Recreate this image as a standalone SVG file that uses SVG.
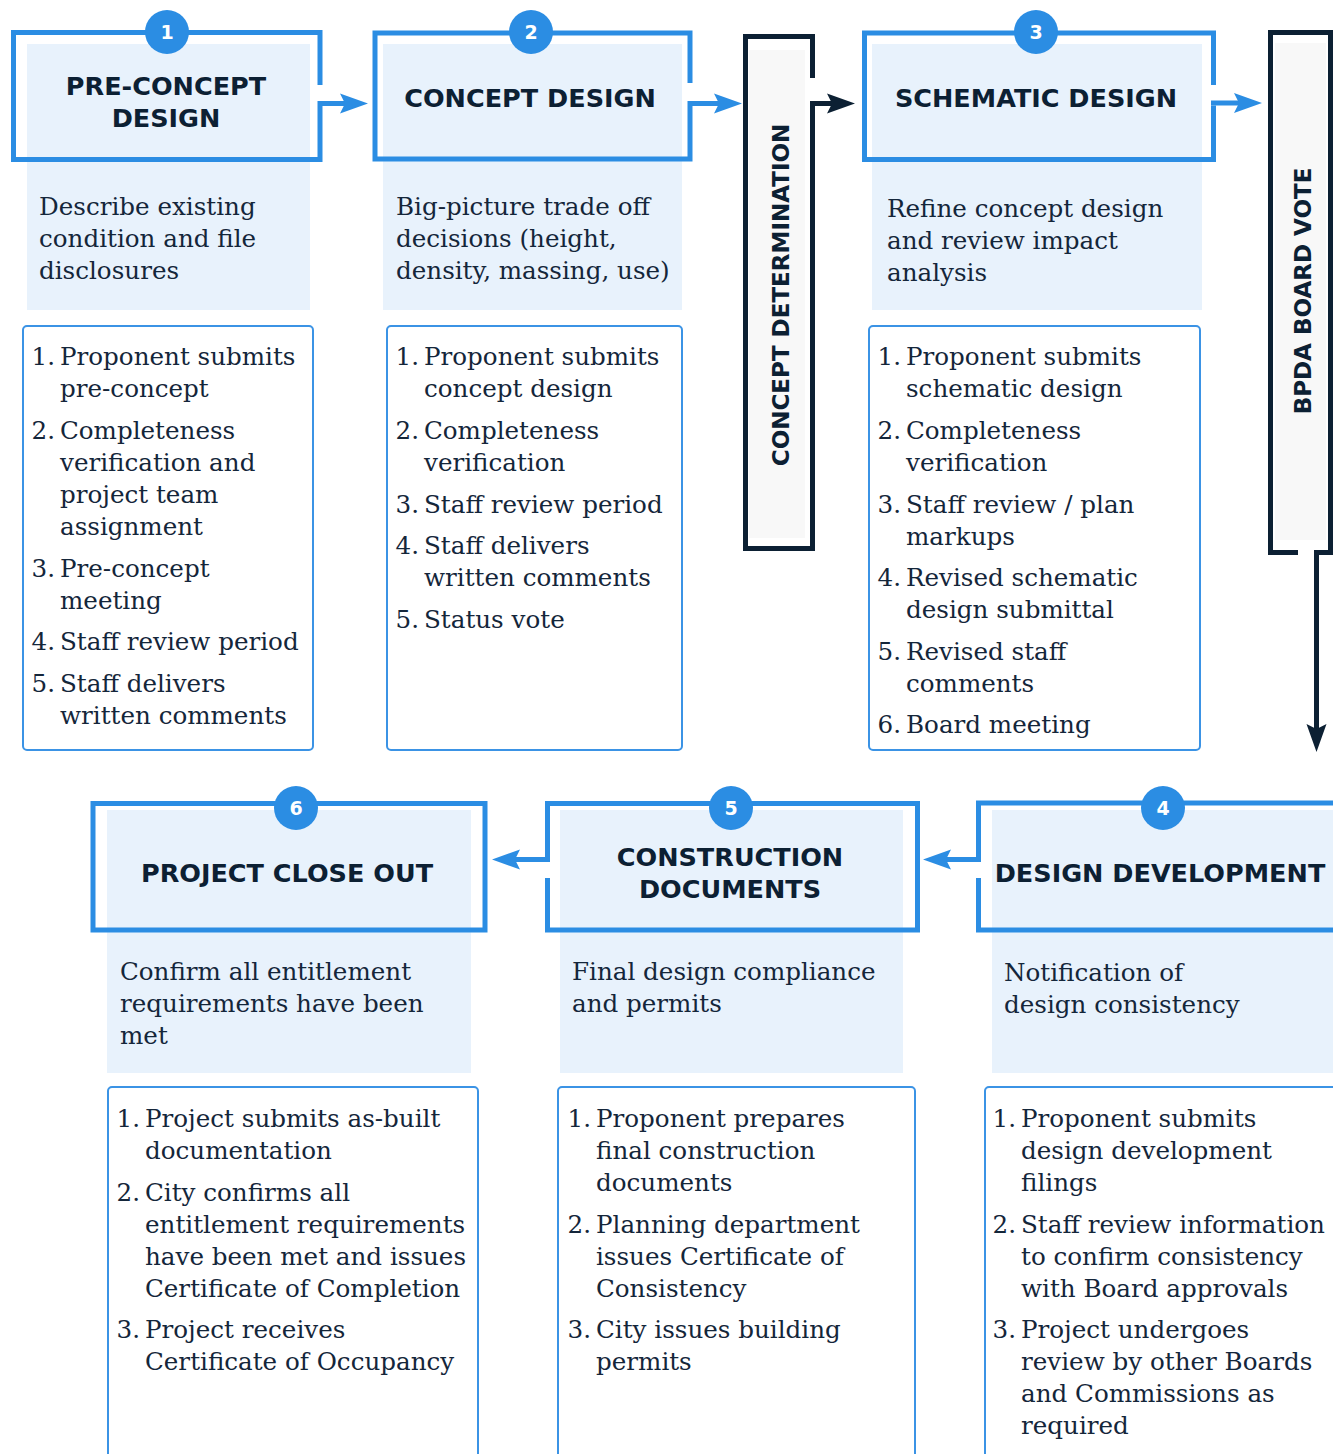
<svg xmlns="http://www.w3.org/2000/svg" width="1333" height="1454" viewBox="0 0 1333 1454">
  <defs>
    <style>
      .frame { fill: none; stroke: #2B8DE3; stroke-width: 5; stroke-linejoin: miter; }
      .bar { fill: none; stroke: #0C2033; stroke-width: 5; stroke-linejoin: miter; }
      .panel { fill: #E8F2FC; }
      .barfill { fill: #F8F8F8; }
      .list { fill: #FFFFFF; stroke: #3B93E5; stroke-width: 2; }
      .badge { fill: #2B8DE3; }
      .num { font-family: "DejaVu Sans", "Liberation Sans", sans-serif; font-weight: bold; font-size: 19px; fill: #FFFFFF; text-anchor: middle; }
      .title { font-family: "DejaVu Sans", "Liberation Sans", sans-serif; font-weight: bold; font-size: 25.5px; fill: #0C2033; text-anchor: middle; }
      .vtitle { font-family: "DejaVu Sans", "Liberation Sans", sans-serif; font-weight: bold; font-size: 23px; fill: #0C2033; text-anchor: middle; }
      .body { font-family: "DejaVu Serif", "Liberation Serif", serif; font-size: 24.6px; fill: #14263A; }
      .idx { text-anchor: end; }
      .conn { fill: none; stroke-width: 5; }
      .blue { stroke: #2B8DE3; }
      .dark { stroke: #0C2033; }
    </style>
    <marker id="headBlue" markerUnits="userSpaceOnUse" viewBox="-17 -11 30 22" markerWidth="30" markerHeight="22" refX="0" refY="0" orient="auto">
      <path d="M12,0 L-16,-10 L-11,0 L-16,10 Z" fill="#2B8DE3"/>
    </marker>
    <marker id="headDark" markerUnits="userSpaceOnUse" viewBox="-17 -11 30 22" markerWidth="30" markerHeight="22" refX="0" refY="0" orient="auto">
      <path d="M12,0 L-16,-10 L-11,0 L-16,10 Z" fill="#0C2033"/>
    </marker>
  </defs>

  <rect width="1333" height="1454" fill="#FFFFFF"/>

  <!-- Step 1: pre-concept design -->
  <g id="step1">
    <rect class="panel" x="27" y="44" width="283" height="266"/>
    <path class="frame" d="M320,85 V32.5 H13.5 V159.5 H320 V106"/>
    <text class="title" x="166" y="95">PRE-CONCEPT</text>
    <text class="title" x="166" y="127">DESIGN</text>
    <text class="body"><tspan x="39" y="215">Describe existing</tspan><tspan x="39" y="247">condition and file</tspan><tspan x="39" y="279">disclosures</tspan></text>
    <rect class="list" x="23" y="326" width="290" height="424" rx="4"/>
    <text class="body idx"><tspan x="55" y="365">1.</tspan><tspan x="55" y="439">2.</tspan><tspan x="55" y="577">3.</tspan><tspan x="55" y="650">4.</tspan><tspan x="55" y="692">5.</tspan></text>
    <text class="body">
      <tspan x="60" y="365">Proponent submits</tspan><tspan x="60" y="397">pre-concept</tspan>
      <tspan x="60" y="439">Completeness</tspan><tspan x="60" y="471">verification and</tspan><tspan x="60" y="503">project team</tspan><tspan x="60" y="535">assignment</tspan>
      <tspan x="60" y="577">Pre-concept</tspan><tspan x="60" y="609">meeting</tspan>
      <tspan x="60" y="650">Staff review period</tspan>
      <tspan x="60" y="692">Staff delivers</tspan><tspan x="60" y="724">written comments</tspan>
    </text>
    <circle class="badge" cx="167" cy="32" r="22"/>
    <text class="num" x="167" y="39">1</text>
  </g>

  <!-- Step 2: concept design -->
  <g id="step2">
    <rect class="panel" x="383" y="44" width="299" height="266"/>
    <path class="frame" d="M690,83 V33 H375 V159 H690 V106"/>
    <text class="title" x="530" y="107">CONCEPT DESIGN</text>
    <text class="body"><tspan x="396" y="215">Big-picture trade off</tspan><tspan x="396" y="247">decisions (height,</tspan><tspan x="396" y="279">density, massing, use)</tspan></text>
    <rect class="list" x="387" y="326" width="295" height="424" rx="4"/>
    <text class="body idx"><tspan x="419" y="365">1.</tspan><tspan x="419" y="439">2.</tspan><tspan x="419" y="513">3.</tspan><tspan x="419" y="554">4.</tspan><tspan x="419" y="628">5.</tspan></text>
    <text class="body">
      <tspan x="424" y="365">Proponent submits</tspan><tspan x="424" y="397">concept design</tspan>
      <tspan x="424" y="439">Completeness</tspan><tspan x="424" y="471">verification</tspan>
      <tspan x="424" y="513">Staff review period</tspan>
      <tspan x="424" y="554">Staff delivers</tspan><tspan x="424" y="586">written comments</tspan>
      <tspan x="424" y="628">Status vote</tspan>
    </text>
    <circle class="badge" cx="531" cy="32" r="22"/>
    <text class="num" x="531" y="39">2</text>
  </g>

  <!-- Gate: concept determination -->
  <g id="concept-determination">
    <rect class="barfill" x="749" y="50" width="56" height="488"/>
    <path class="bar" d="M812.5,78 V36.5 H745.5 V548.5 H812.5 V106"/>
    <text class="vtitle" transform="translate(789,295) rotate(-90)">CONCEPT DETERMINATION</text>
  </g>

  <!-- Step 3: schematic design -->
  <g id="step3">
    <rect class="panel" x="872" y="44" width="330" height="266"/>
    <path class="frame" d="M1213.5,85 V33 H864.5 V159.5 H1213.5 V105.5"/>
    <text class="title" x="1036" y="107">SCHEMATIC DESIGN</text>
    <text class="body"><tspan x="887" y="217">Refine concept design</tspan><tspan x="887" y="249">and review impact</tspan><tspan x="887" y="281">analysis</tspan></text>
    <rect class="list" x="869" y="326" width="331" height="424" rx="4"/>
    <text class="body idx"><tspan x="901" y="365">1.</tspan><tspan x="901" y="439">2.</tspan><tspan x="901" y="513">3.</tspan><tspan x="901" y="586">4.</tspan><tspan x="901" y="660">5.</tspan><tspan x="901" y="733">6.</tspan></text>
    <text class="body">
      <tspan x="906" y="365">Proponent submits</tspan><tspan x="906" y="397">schematic design</tspan>
      <tspan x="906" y="439">Completeness</tspan><tspan x="906" y="471">verification</tspan>
      <tspan x="906" y="513">Staff review / plan</tspan><tspan x="906" y="545">markups</tspan>
      <tspan x="906" y="586">Revised schematic</tspan><tspan x="906" y="618">design submittal</tspan>
      <tspan x="906" y="660">Revised staff</tspan><tspan x="906" y="692">comments</tspan>
      <tspan x="906" y="733">Board meeting</tspan>
    </text>
    <circle class="badge" cx="1036" cy="32" r="22"/>
    <text class="num" x="1036" y="39">3</text>
  </g>

  <!-- Gate: BPDA board vote -->
  <g id="bpda-board-vote">
    <rect class="barfill" x="1275" y="43" width="51" height="497"/>
    <path class="bar" d="M1298,552.5 H1270.5 V32.5 H1330.5 V552.5 H1314"/>
    <text class="vtitle" transform="translate(1311,291) rotate(-90)">BPDA BOARD VOTE</text>
  </g>

  <!-- Step 4: design development -->
  <g id="step4">
    <rect class="panel" x="992" y="810" width="341" height="263"/>
    <path class="frame" d="M1340,803 H978.5 V857"/>
    <path class="frame" d="M978.5,878 V930 H1340"/>
    <text class="title" x="1160" y="882">DESIGN DEVELOPMENT</text>
    <text class="body"><tspan x="1004" y="981">Notification of</tspan><tspan x="1004" y="1013">design consistency</tspan></text>
    <rect class="list" x="985" y="1087" width="360" height="380" rx="4"/>
    <text class="body idx"><tspan x="1016" y="1127">1.</tspan><tspan x="1016" y="1233">2.</tspan><tspan x="1016" y="1338">3.</tspan></text>
    <text class="body">
      <tspan x="1021" y="1127">Proponent submits</tspan><tspan x="1021" y="1159">design development</tspan><tspan x="1021" y="1191">filings</tspan>
      <tspan x="1021" y="1233">Staff review information</tspan><tspan x="1021" y="1265">to confirm consistency</tspan><tspan x="1021" y="1297">with Board approvals</tspan>
      <tspan x="1021" y="1338">Project undergoes</tspan><tspan x="1021" y="1370">review by other Boards</tspan><tspan x="1021" y="1402">and Commissions as</tspan><tspan x="1021" y="1434">required</tspan>
    </text>
    <circle class="badge" cx="1163" cy="808" r="22"/>
    <text class="num" x="1163" y="815">4</text>
  </g>

  <!-- Step 5: construction documents -->
  <g id="step5">
    <rect class="panel" x="560" y="810" width="343" height="263"/>
    <path class="frame" d="M547.5,878 V930 H917.5 V803.5 H547.5 V857"/>
    <text class="title" x="730" y="866">CONSTRUCTION</text>
    <text class="title" x="730" y="898">DOCUMENTS</text>
    <text class="body"><tspan x="572" y="980">Final design compliance</tspan><tspan x="572" y="1012">and permits</tspan></text>
    <rect class="list" x="558" y="1087" width="357" height="380" rx="4"/>
    <text class="body idx"><tspan x="591" y="1127">1.</tspan><tspan x="591" y="1233">2.</tspan><tspan x="591" y="1338">3.</tspan></text>
    <text class="body">
      <tspan x="596" y="1127">Proponent prepares</tspan><tspan x="596" y="1159">final construction</tspan><tspan x="596" y="1191">documents</tspan>
      <tspan x="596" y="1233">Planning department</tspan><tspan x="596" y="1265">issues Certificate of</tspan><tspan x="596" y="1297">Consistency</tspan>
      <tspan x="596" y="1338">City issues building</tspan><tspan x="596" y="1370">permits</tspan>
    </text>
    <circle class="badge" cx="731" cy="808" r="22"/>
    <text class="num" x="731" y="815">5</text>
  </g>

  <!-- Step 6: project close out -->
  <g id="step6">
    <rect class="panel" x="107" y="810" width="364" height="263"/>
    <rect class="frame" x="93" y="803.5" width="392" height="126.5"/>
    <text class="title" x="287" y="882">PROJECT CLOSE OUT</text>
    <text class="body"><tspan x="120" y="980">Confirm all entitlement</tspan><tspan x="120" y="1012">requirements have been</tspan><tspan x="120" y="1044">met</tspan></text>
    <rect class="list" x="108" y="1087" width="370" height="380" rx="4"/>
    <text class="body idx"><tspan x="140" y="1127">1.</tspan><tspan x="140" y="1201">2.</tspan><tspan x="140" y="1338">3.</tspan></text>
    <text class="body">
      <tspan x="145" y="1127">Project submits as-built</tspan><tspan x="145" y="1159">documentation</tspan>
      <tspan x="145" y="1201">City confirms all</tspan><tspan x="145" y="1233">entitlement requirements</tspan><tspan x="145" y="1265">have been met and issues</tspan><tspan x="145" y="1297">Certificate of Completion</tspan>
      <tspan x="145" y="1338">Project receives</tspan><tspan x="145" y="1370">Certificate of Occupancy</tspan>
    </text>
    <circle class="badge" cx="296" cy="808" r="22"/>
    <text class="num" x="296" y="815">6</text>
  </g>

  <!-- Connectors between stages -->
  <g id="connectors">
    <path class="conn blue" d="M317.5,103.5 H356" marker-end="url(#headBlue)"/>
    <path class="conn blue" d="M687.5,103.5 H730" marker-end="url(#headBlue)"/>
    <path class="conn dark" d="M810,103.5 H843" marker-end="url(#headDark)"/>
    <path class="conn blue" d="M1211,103 H1250" marker-end="url(#headBlue)"/>
    <path class="conn dark" d="M1316.5,550 V740" marker-end="url(#headDark)"/>
    <path class="conn blue" d="M981,859.5 H935" marker-end="url(#headBlue)"/>
    <path class="conn blue" d="M550,859.5 H504" marker-end="url(#headBlue)"/>
  </g>
</svg>
